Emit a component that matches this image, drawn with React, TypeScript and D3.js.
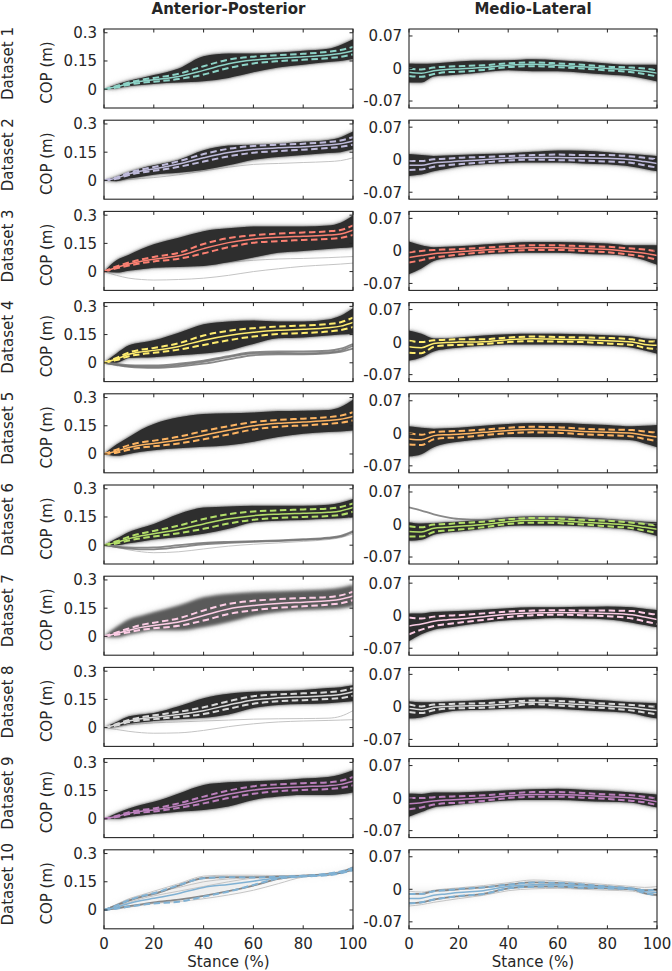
import React from "react";
import * as d3 from "d3";

// ---------- data ----------
const STANCE = [0, 5, 10, 15, 20, 30, 40, 50, 60, 70, 80, 90, 95, 100];
const X_TICKS = [0, 20, 40, 60, 80, 100];
const AP_TICKS = [0, 0.15, 0.3];
const AP_TICK_LABELS = ["0", "0.15", "0.3"];
const ML_TICKS = [-0.07, 0, 0.07];
const ML_TICK_LABELS = ["-0.07", "0", "0.07"];
const DATASETS = ["Dataset 1", "Dataset 2", "Dataset 3", "Dataset 4", "Dataset 5", "Dataset 6", "Dataset 7", "Dataset 8", "Dataset 9", "Dataset 10"];
const COLUMN_TITLES = ["Anterior-Posterior", "Medio-Lateral"];
const COLORS = ["#8dd3c7", "#bebada", "#fb8072", "#ffed6f", "#fdb462", "#b3de69", "#fccde5", "#d9d9d9", "#bc80bd", "#80b1d3"];

const AP_MEAN = [
  [0, 0.013, 0.03, 0.042, 0.05, 0.068, 0.1, 0.135, 0.155, 0.165, 0.172, 0.182, 0.19, 0.205],
  [0, 0.012, 0.035, 0.05, 0.061, 0.087, 0.12, 0.148, 0.165, 0.173, 0.179, 0.188, 0.195, 0.21],
  [0, 0.022, 0.04, 0.055, 0.066, 0.084, 0.122, 0.154, 0.173, 0.182, 0.188, 0.194, 0.2, 0.22],
  [0, 0.02, 0.045, 0.058, 0.066, 0.087, 0.12, 0.145, 0.162, 0.173, 0.178, 0.186, 0.195, 0.215],
  [0, 0.015, 0.035, 0.048, 0.056, 0.074, 0.1, 0.126, 0.15, 0.163, 0.17, 0.178, 0.185, 0.2],
  [0, 0.015, 0.035, 0.05, 0.061, 0.084, 0.113, 0.14, 0.157, 0.165, 0.17, 0.175, 0.182, 0.2],
  [0, 0.015, 0.032, 0.048, 0.058, 0.076, 0.111, 0.146, 0.164, 0.175, 0.182, 0.189, 0.197, 0.215],
  [0, 0.015, 0.035, 0.047, 0.055, 0.07, 0.09, 0.12, 0.147, 0.158, 0.164, 0.17, 0.176, 0.19],
  [0, 0.012, 0.03, 0.04, 0.047, 0.07, 0.1, 0.13, 0.153, 0.165, 0.171, 0.176, 0.183, 0.2],
  [0, 0.015, 0.035, 0.05, 0.062, 0.088, 0.12, 0.136, 0.153, 0.172, 0.18, 0.189, 0.2, 0.217],
];
const AP_SD = [
  [0, 0.004, 0.006, 0.008, 0.01, 0.014, 0.022, 0.022, 0.018, 0.016, 0.016, 0.017, 0.018, 0.02],
  [0, 0.004, 0.006, 0.008, 0.01, 0.015, 0.02, 0.02, 0.018, 0.017, 0.016, 0.016, 0.017, 0.02],
  [0, 0.005, 0.008, 0.01, 0.012, 0.016, 0.025, 0.024, 0.02, 0.02, 0.02, 0.02, 0.021, 0.025],
  [0, 0.006, 0.01, 0.012, 0.013, 0.017, 0.025, 0.025, 0.022, 0.02, 0.02, 0.02, 0.021, 0.025],
  [0, 0.008, 0.012, 0.014, 0.015, 0.018, 0.022, 0.022, 0.02, 0.018, 0.018, 0.018, 0.019, 0.022],
  [0, 0.006, 0.01, 0.013, 0.015, 0.02, 0.026, 0.025, 0.022, 0.02, 0.02, 0.02, 0.021, 0.022],
  [0, 0.006, 0.01, 0.013, 0.015, 0.02, 0.027, 0.027, 0.025, 0.023, 0.022, 0.02, 0.021, 0.022],
  [0, 0.004, 0.006, 0.008, 0.01, 0.014, 0.018, 0.02, 0.02, 0.018, 0.018, 0.018, 0.019, 0.02],
  [0, 0.003, 0.005, 0.007, 0.008, 0.012, 0.018, 0.02, 0.02, 0.018, 0.018, 0.018, 0.019, 0.022],
  [0, 0.008, 0.017, 0.023, 0.027, 0.044, 0.049, 0.038, 0.02, 0.005, 0.002, 0.004, 0.005, 0.006],
];
const AP_LO = [
  [0, 0.004, 0.015, 0.022, 0.028, 0.035, 0.042, 0.06, 0.09, 0.115, 0.13, 0.145, 0.15, 0.16],
  [0, -0.004, 0.01, 0.02, 0.03, 0.04, 0.055, 0.08, 0.11, 0.125, 0.135, 0.145, 0.15, 0.165],
  [0, -0.005, 0.005, 0.012, 0.02, 0.025, 0.03, 0.05, 0.075, 0.1, 0.11, 0.12, 0.125, 0.13],
  [0, 0.0, 0.025, 0.028, 0.03, 0.04, 0.05, 0.066, 0.1, 0.13, 0.135, 0.145, 0.15, 0.155],
  [0, -0.01, 0.0, 0.012, 0.02, 0.03, 0.038, 0.047, 0.065, 0.09, 0.108, 0.117, 0.12, 0.125],
  [0, 0.0, 0.01, 0.02, 0.03, 0.044, 0.061, 0.087, 0.122, 0.13, 0.134, 0.14, 0.143, 0.15],
  [0, -0.005, 0.01, 0.022, 0.032, 0.032, 0.05, 0.076, 0.11, 0.13, 0.14, 0.146, 0.15, 0.16],
  [0, 0.005, 0.02, 0.028, 0.035, 0.044, 0.052, 0.07, 0.104, 0.12, 0.125, 0.13, 0.135, 0.14],
  [0, 0.0, 0.01, 0.018, 0.025, 0.038, 0.047, 0.065, 0.1, 0.118, 0.126, 0.126, 0.13, 0.14],
  [0, 0.005, 0.015, 0.025, 0.032, 0.04, 0.06, 0.085, 0.115, 0.155, 0.175, 0.182, 0.19, 0.205],
];
const AP_HI = [
  [0, 0.025, 0.045, 0.06, 0.075, 0.11, 0.175, 0.19, 0.19, 0.195, 0.205, 0.215, 0.235, 0.265],
  [0, 0.02, 0.045, 0.065, 0.08, 0.11, 0.16, 0.185, 0.19, 0.195, 0.205, 0.215, 0.23, 0.26],
  [0, 0.06, 0.09, 0.12, 0.145, 0.18, 0.215, 0.23, 0.24, 0.24, 0.24, 0.245, 0.26, 0.3],
  [0, 0.05, 0.093, 0.108, 0.12, 0.16, 0.205, 0.22, 0.225, 0.22, 0.22, 0.23, 0.25, 0.29],
  [0, 0.05, 0.09, 0.13, 0.16, 0.195, 0.213, 0.216, 0.22, 0.228, 0.23, 0.234, 0.25, 0.29],
  [0, 0.035, 0.07, 0.093, 0.113, 0.166, 0.2, 0.206, 0.21, 0.21, 0.21, 0.215, 0.225, 0.245],
  [0, 0.05, 0.09, 0.11, 0.128, 0.164, 0.208, 0.226, 0.235, 0.238, 0.244, 0.25, 0.258, 0.275],
  [0, 0.03, 0.06, 0.07, 0.078, 0.113, 0.156, 0.18, 0.19, 0.194, 0.2, 0.21, 0.215, 0.225],
  [0, 0.03, 0.055, 0.075, 0.09, 0.135, 0.18, 0.194, 0.2, 0.205, 0.214, 0.222, 0.235, 0.258],
  [0, 0.03, 0.06, 0.085, 0.1, 0.14, 0.18, 0.185, 0.185, 0.185, 0.19, 0.2, 0.21, 0.235],
];
// individual trajectories standing apart from the bundle
const AP_EXTRA_DARK: number[][][] = [
  [], [], [],
  [
    [0, -0.01, -0.018, -0.02, -0.02, -0.012, 0.005, 0.03, 0.05, 0.052, 0.05, 0.055, 0.065, 0.09],
    [0, -0.012, -0.022, -0.026, -0.027, -0.02, -0.005, 0.018, 0.04, 0.045, 0.045, 0.05, 0.058, 0.075],
    [0, -0.006, -0.012, -0.014, -0.014, -0.005, 0.012, 0.036, 0.056, 0.06, 0.06, 0.064, 0.075, 0.1],
  ],
  [],
  [
    [0, -0.008, -0.012, -0.013, -0.012, 0.0, 0.012, 0.018, 0.022, 0.026, 0.032, 0.04, 0.05, 0.075],
    [0, -0.01, -0.018, -0.022, -0.022, -0.01, 0.005, 0.012, 0.018, 0.022, 0.028, 0.036, 0.045, 0.07],
  ],
  [], [], [],
  [
    [0, 0.025, 0.05, 0.07, 0.085, 0.13, 0.17, 0.175, 0.175, 0.177, 0.18, 0.19, 0.2, 0.225],
    [0, 0.01, 0.02, 0.03, 0.04, 0.055, 0.075, 0.1, 0.13, 0.165, 0.182, 0.188, 0.198, 0.215],
  ],
];
const AP_EXTRA_LIGHT: number[][][] = [
  [],
  [[0, 0.0, 0.005, 0.01, 0.015, 0.03, 0.05, 0.07, 0.085, 0.09, 0.095, 0.1, 0.105, 0.12]],
  [
    [0, -0.02, -0.035, -0.042, -0.045, -0.042, -0.035, -0.02, 0.0, 0.015, 0.028, 0.036, 0.04, 0.045],
    [0, 0.005, 0.012, 0.016, 0.02, 0.03, 0.04, 0.05, 0.06, 0.067, 0.07, 0.074, 0.077, 0.08],
  ],
  [],
  [],
  [[0, -0.012, -0.025, -0.035, -0.04, -0.035, -0.02, -0.005, 0.005, 0.012, 0.02, 0.03, 0.04, 0.06]],
  [],
  [
    [0, -0.01, -0.02, -0.027, -0.03, -0.028, -0.015, 0.005, 0.02, 0.03, 0.035, 0.038, 0.04, 0.042],
    [0, 0.005, 0.015, 0.02, 0.025, 0.03, 0.035, 0.04, 0.045, 0.047, 0.048, 0.05, 0.06, 0.09],
  ],
  [],
  [
    [0, 0.03, 0.06, 0.08, 0.1, 0.14, 0.18, 0.185, 0.185, 0.183, 0.185, 0.195, 0.205, 0.23],
    [0, 0.005, 0.015, 0.025, 0.035, 0.045, 0.06, 0.08, 0.105, 0.14, 0.175, 0.185, 0.195, 0.21],
    [0, 0.02, 0.04, 0.06, 0.075, 0.1, 0.125, 0.15, 0.17, 0.18, 0.182, 0.19, 0.2, 0.22],
    [0, 0.028, 0.055, 0.075, 0.092, 0.12, 0.15, 0.165, 0.17, 0.172, 0.18, 0.19, 0.2, 0.225],
  ],
];

const ML_MEAN = [
  [-0.008, -0.01, -0.005, -0.002, -0.001, 0.002, 0.007, 0.009, 0.007, 0.004, 0.0, -0.003, -0.006, -0.01],
  [-0.012, -0.012, -0.007, -0.005, -0.003, 0.0, 0.003, 0.005, 0.005, 0.004, 0.003, 0.0, -0.004, -0.008],
  [-0.014, -0.01, -0.006, -0.004, -0.002, 0.002, 0.005, 0.007, 0.007, 0.005, 0.003, -0.002, -0.005, -0.01],
  [-0.01, -0.012, -0.003, -0.001, 0.0, 0.001, 0.005, 0.007, 0.006, 0.005, 0.003, 0.0, -0.005, -0.007],
  [-0.012, -0.014, -0.005, -0.003, -0.002, 0.002, 0.006, 0.008, 0.007, 0.004, 0.002, 0.0, -0.004, -0.008],
  [-0.015, -0.016, -0.008, -0.006, -0.004, 0.0, 0.006, 0.009, 0.008, 0.005, 0.002, -0.002, -0.006, -0.01],
  [-0.022, -0.018, -0.012, -0.009, -0.007, -0.002, 0.003, 0.006, 0.007, 0.006, 0.005, 0.002, -0.003, -0.008],
  [-0.003, -0.006, -0.001, 0.001, 0.002, 0.003, 0.006, 0.01, 0.008, 0.005, 0.002, -0.002, -0.005, -0.008],
  [-0.012, -0.01, -0.006, -0.004, -0.003, 0.0, 0.005, 0.008, 0.008, 0.006, 0.003, 0.0, -0.003, -0.008],
  [-0.02, -0.019, -0.013, -0.01, -0.007, -0.003, 0.006, 0.01, 0.01, 0.007, 0.004, 0.001, -0.005, -0.007],
];
const ML_SD = [
  [0.008, 0.008, 0.007, 0.006, 0.006, 0.005, 0.004, 0.004, 0.004, 0.004, 0.004, 0.005, 0.006, 0.007],
  [0.01, 0.009, 0.008, 0.007, 0.007, 0.006, 0.005, 0.005, 0.006, 0.006, 0.007, 0.007, 0.008, 0.009],
  [0.011, 0.01, 0.008, 0.007, 0.006, 0.005, 0.005, 0.005, 0.005, 0.005, 0.006, 0.007, 0.008, 0.009],
  [0.013, 0.012, 0.007, 0.006, 0.006, 0.005, 0.005, 0.005, 0.005, 0.005, 0.006, 0.006, 0.007, 0.008],
  [0.012, 0.011, 0.008, 0.007, 0.007, 0.006, 0.006, 0.006, 0.006, 0.006, 0.006, 0.007, 0.008, 0.009],
  [0.011, 0.01, 0.008, 0.007, 0.007, 0.006, 0.005, 0.005, 0.005, 0.005, 0.006, 0.006, 0.007, 0.008],
  [0.018, 0.012, 0.01, 0.009, 0.008, 0.007, 0.006, 0.005, 0.005, 0.005, 0.006, 0.008, 0.009, 0.01],
  [0.008, 0.007, 0.006, 0.005, 0.005, 0.005, 0.005, 0.004, 0.005, 0.005, 0.005, 0.006, 0.007, 0.008],
  [0.012, 0.01, 0.008, 0.007, 0.007, 0.006, 0.005, 0.005, 0.005, 0.005, 0.005, 0.006, 0.006, 0.007],
  [0.01, 0.009, 0.009, 0.008, 0.0075, 0.007, 0.004, 0.0045, 0.004, 0.0035, 0.002, 0.001, 0.003, 0.005],
];
const ML_LO = [
  [-0.03, -0.03, -0.017, -0.015, -0.013, -0.008, -0.004, -0.006, -0.006, -0.009, -0.013, -0.017, -0.022, -0.028],
  [-0.035, -0.032, -0.025, -0.02, -0.015, -0.01, -0.007, -0.006, -0.006, -0.008, -0.01, -0.015, -0.02, -0.025],
  [-0.05, -0.038, -0.022, -0.016, -0.013, -0.008, -0.005, -0.004, -0.004, -0.006, -0.008, -0.013, -0.02, -0.03],
  [-0.04, -0.033, -0.02, -0.015, -0.012, -0.008, -0.005, -0.005, -0.005, -0.006, -0.008, -0.012, -0.018, -0.025],
  [-0.05, -0.045, -0.03, -0.022, -0.018, -0.012, -0.008, -0.008, -0.008, -0.01, -0.012, -0.015, -0.022, -0.03],
  [-0.035, -0.033, -0.022, -0.017, -0.015, -0.009, -0.003, -0.002, -0.002, -0.004, -0.007, -0.012, -0.018, -0.025],
  [-0.055, -0.04, -0.03, -0.026, -0.022, -0.015, -0.01, -0.007, -0.005, -0.006, -0.008, -0.015, -0.02, -0.025],
  [-0.025, -0.023, -0.016, -0.011, -0.008, -0.006, -0.004, -0.003, -0.004, -0.007, -0.01, -0.014, -0.02, -0.025],
  [-0.04, -0.03, -0.02, -0.017, -0.014, -0.009, -0.005, -0.004, -0.004, -0.006, -0.008, -0.01, -0.015, -0.02],
  [-0.04, -0.036, -0.03, -0.026, -0.022, -0.014, -0.004, 0.0, 0.0, -0.002, -0.004, -0.006, -0.01, -0.015],
];
const ML_HI = [
  [0.011, 0.01, 0.011, 0.013, 0.015, 0.017, 0.018, 0.02, 0.018, 0.015, 0.011, 0.008, 0.008, 0.008],
  [0.012, 0.01, 0.008, 0.009, 0.01, 0.012, 0.014, 0.017, 0.02, 0.019, 0.016, 0.012, 0.01, 0.008],
  [0.02, 0.012, 0.008, 0.009, 0.01, 0.014, 0.017, 0.019, 0.019, 0.018, 0.016, 0.012, 0.012, 0.012],
  [0.025, 0.018, 0.008, 0.008, 0.01, 0.014, 0.017, 0.018, 0.018, 0.017, 0.015, 0.012, 0.008, 0.006],
  [0.015, 0.012, 0.01, 0.011, 0.012, 0.016, 0.02, 0.022, 0.022, 0.02, 0.018, 0.015, 0.016, 0.018],
  [0.005, 0.002, 0.003, 0.005, 0.006, 0.01, 0.015, 0.017, 0.017, 0.015, 0.012, 0.008, 0.006, 0.005],
  [0.005, 0.005, 0.008, 0.009, 0.01, 0.013, 0.016, 0.018, 0.018, 0.019, 0.02, 0.018, 0.015, 0.012],
  [0.012, 0.01, 0.01, 0.011, 0.012, 0.015, 0.018, 0.02, 0.02, 0.017, 0.014, 0.01, 0.009, 0.008],
  [0.01, 0.009, 0.012, 0.012, 0.012, 0.014, 0.017, 0.019, 0.02, 0.018, 0.016, 0.012, 0.01, 0.008],
  [0.0, 0.0, 0.0, 0.002, 0.003, 0.008, 0.016, 0.022, 0.02, 0.016, 0.012, 0.008, 0.008, 0.008],
];
const ML_EXTRA_DARK: number[][][] = [
  [], [], [], [], [],
  [[0.037, 0.03, 0.022, 0.016, 0.012, 0.01, 0.012, 0.014, 0.014, 0.012, 0.01, 0.006, 0.003, 0.0]],
  [], [], [],
  [
    [-0.01, -0.01, -0.004, -0.002, 0.0, 0.004, 0.01, 0.015, 0.014, 0.01, 0.006, 0.002, -0.002, -0.002],
    [-0.03, -0.028, -0.022, -0.018, -0.015, -0.01, 0.002, 0.006, 0.006, 0.003, 0.002, 0.0, -0.008, -0.012],
  ],
];
const ML_EXTRA_LIGHT: number[][][] = [
  [], [], [], [], [], [], [], [], [],
  [
    [-0.004, -0.006, -0.002, 0.001, 0.003, 0.008, 0.014, 0.02, 0.018, 0.014, 0.01, 0.006, 0.004, 0.006],
    [-0.036, -0.033, -0.028, -0.024, -0.02, -0.013, -0.003, 0.001, 0.002, 0.0, -0.002, -0.004, -0.01, -0.014],
  ],
];

// ---------- styles / layout ----------
const FONT = "DejaVu Sans, Verdana, sans-serif";
const INK = "#262626";
const W = 672;
const H = 971;
const COL_X = [
  [104, 353],
  [409, 657],
];
const ROW_TOP = 29;
const ROW_PITCH = 91.2;
const PANEL_H = 79;
const AP_DOMAIN = [-0.1, 0.32];
const ML_DOMAIN = [-0.085, 0.085];
// tone of the trajectory bundle per dataset (AP, ML)
const TONE: string[][] = [
  ["dark", "dark"], ["dark", "dark"], ["dark", "dark"], ["dark", "dark"], ["dark", "dark"],
  ["dark", "dark"], ["medium", "dark"], ["dark", "dark"], ["dark", "dark"], ["light", "light"],
];

function Panel({ row, col }: { row: number; col: number }) {
  const [x0, x1] = COL_X[col];
  const top = ROW_TOP + row * ROW_PITCH;
  const bottom = top + PANEL_H;
  const x = d3.scaleLinear().domain([0, 100]).range([x0, x1]);
  const y = d3
    .scaleLinear()
    .domain(col === 0 ? AP_DOMAIN : ML_DOMAIN)
    .range([bottom, top]);
  const mean = col === 0 ? AP_MEAN[row] : ML_MEAN[row];
  const sd = col === 0 ? AP_SD[row] : ML_SD[row];
  const lo = col === 0 ? AP_LO[row] : ML_LO[row];
  const hi = col === 0 ? AP_HI[row] : ML_HI[row];
  const extraDark = col === 0 ? AP_EXTRA_DARK[row] : ML_EXTRA_DARK[row];
  const extraLight = col === 0 ? AP_EXTRA_LIGHT[row] : ML_EXTRA_LIGHT[row];
  const ticks = col === 0 ? AP_TICKS : ML_TICKS;
  const tickLabels = col === 0 ? AP_TICK_LABELS : ML_TICK_LABELS;
  const color = COLORS[row];
  const tone = TONE[row][col];
  const curve = d3.curveMonotoneX;

  const area = d3
    .area<number>()
    .x((_, k) => x(STANCE[k]))
    .y0((_, k) => y(lo[k]))
    .y1((_, k) => y(hi[k]))
    .curve(curve);
  const line = d3
    .line<number>()
    .x((_, k) => x(STANCE[k]))
    .y((d) => y(d))
    .curve(curve);
  const bandPath = area(lo) || "";
  const upper = mean.map((m, k) => m + sd[k]);
  const lower = mean.map((m, k) => m - sd[k]);
  const clipId = `clip-${row}-${col}`;
  const isLast = row === DATASETS.length - 1;

  return (
    <g>
      <defs>
        <clipPath id={clipId}>
          <rect x={x0} y={top} width={x1 - x0} height={PANEL_H} />
        </clipPath>
      </defs>
      <g clipPath={`url(#${clipId})`}>
        {tone === "light" && (
          <path d={bandPath} fill="#dcdcdc" opacity={0.45} filter="url(#haze)" />
        )}
        {extraLight.map((e, i) => (
          <path key={"l" + i} d={line(e) || ""} fill="none" stroke="#c4c4c4" strokeWidth={1} />
        ))}
        {tone === "dark" && (
          <g>
            <path d={bandPath} fill="#8c8c8c" opacity={0.5} filter="url(#haze)" />
            <path d={bandPath} fill="#454545" filter="url(#mid)" />
            <path d={bandPath} fill="#2d2d2d" filter="url(#core)" />
          </g>
        )}
        {tone === "medium" && (
          <g>
            <path d={bandPath} fill="#a0a0a0" opacity={0.6} filter="url(#haze)" />
            <path d={bandPath} fill="#5a5a5a" filter="url(#mid)" />
          </g>
        )}
        {extraDark.map((e, i) => (
          <path key={"d" + i} d={line(e) || ""} fill="none" stroke="#737373" strokeWidth={1.8} opacity={0.85} />
        ))}
        <path d={line(upper) || ""} fill="none" stroke={color} strokeWidth={2} strokeDasharray="6.5 3.5" />
        <path d={line(lower) || ""} fill="none" stroke={color} strokeWidth={2} strokeDasharray="6.5 3.5" />
        <path d={line(mean) || ""} fill="none" stroke={color} strokeWidth={1.5} />
      </g>
      <rect x={x0} y={top} width={x1 - x0} height={PANEL_H} fill="none" stroke={INK} strokeWidth={1.1} />
      {X_TICKS.map((t) => (
        <g key={"xt" + t}>
          <line x1={x(t)} x2={x(t)} y1={bottom} y2={bottom - 3.5} stroke={INK} />
          <line x1={x(t)} x2={x(t)} y1={top} y2={top + 3.5} stroke={INK} />
          {isLast && (
            <text x={x(t)} y={bottom + 20} textAnchor="middle" fontSize={15} fill={INK} fontFamily={FONT}>
              {t}
            </text>
          )}
        </g>
      ))}
      {ticks.map((t, i) => (
        <g key={"yt" + i}>
          <line x1={x0} x2={x0 + 3.5} y1={y(t)} y2={y(t)} stroke={INK} />
          <line x1={x1} x2={x1 - 3.5} y1={y(t)} y2={y(t)} stroke={INK} />
          <text x={x0 - 7} y={y(t)} dy="0.36em" textAnchor="end" fontSize={15} fill={INK} fontFamily={FONT}>
            {tickLabels[i]}
          </text>
        </g>
      ))}
      {isLast && (
        <text x={(x0 + x1) / 2} y={bottom + 38} textAnchor="middle" fontSize={15} fill={INK} fontFamily={FONT}>
          Stance (%)
        </text>
      )}
      {col === 0 && (
        <g>
          <text
            transform={`translate(13,${(top + bottom) / 2 - 5}) rotate(-90)`}
            textAnchor="middle"
            fontSize={15}
            fill={INK}
            fontFamily={FONT}
          >
            {DATASETS[row]}
          </text>
          <text
            transform={`translate(52,${(top + bottom) / 2 + 4}) rotate(-90)`}
            textAnchor="middle"
            fontSize={15}
            fill={INK}
            fontFamily={FONT}
          >
            COP (m)
          </text>
        </g>
      )}
    </g>
  );
}

export default function App() {
  return (
    <svg
      width={W}
      height={H}
      viewBox={`0 0 ${W} ${H}`}
      style={{ position: "absolute", left: 0, top: 0, background: "#fff" }}
    >
      <defs>
        <filter id="haze" filterUnits="userSpaceOnUse" x={0} y={0} width={W} height={H}>
          <feGaussianBlur stdDeviation={3} />
        </filter>
        <filter id="mid" filterUnits="userSpaceOnUse" x={0} y={0} width={W} height={H}>
          <feGaussianBlur stdDeviation={1.6} />
        </filter>
        <filter id="core" filterUnits="userSpaceOnUse" x={0} y={0} width={W} height={H}>
          <feGaussianBlur stdDeviation={0.7} />
        </filter>
      </defs>
      <rect width={W} height={H} fill="#fff" />
      {COLUMN_TITLES.map((t, c) => (
        <text
          key={t}
          x={(COL_X[c][0] + COL_X[c][1]) / 2}
          y={14}
          textAnchor="middle"
          fontSize={15}
          fontWeight="bold"
          fill={INK}
          fontFamily={FONT}
        >
          {t}
        </text>
      ))}
      {DATASETS.map((_, r) => (
        <g key={r}>
          <Panel row={r} col={0} />
          <Panel row={r} col={1} />
        </g>
      ))}
    </svg>
  );
}
